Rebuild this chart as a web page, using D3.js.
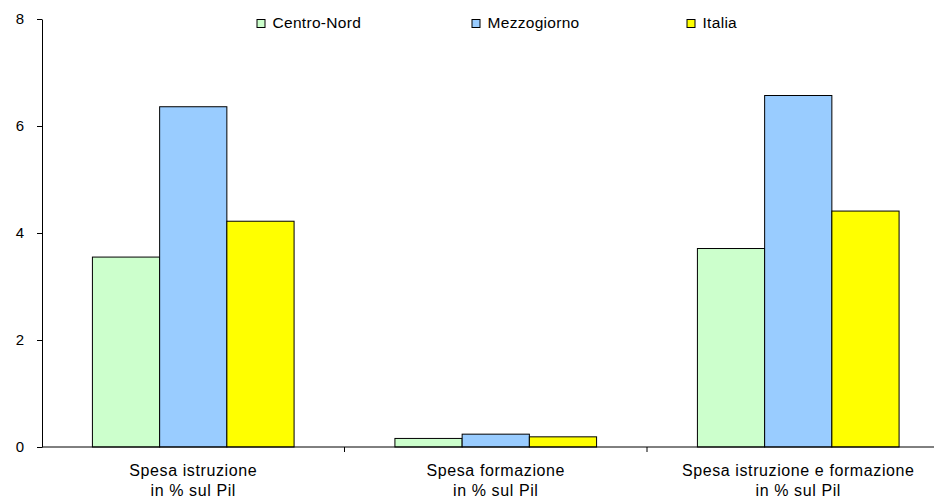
<!DOCTYPE html>
<html>
<head>
<meta charset="utf-8">
<script src="https://cdn.jsdelivr.net/npm/d3@7"></script>
<style>
  body { margin: 0; background: #fff; }
  svg { display: block; font-family: Arial, "Liberation Sans", sans-serif; }
</style>
</head>
<body>
<svg id="chart" width="934" height="500"></svg>
<script>
const categories = [
  ["Spesa istruzione", "in % sul Pil"],
  ["Spesa formazione", "in % sul Pil"],
  ["Spesa istruzione e formazione", "in % sul Pil"]
]
const seriesNames = ["Centro-Nord", "Mezzogiorno", "Italia"]
const centroNord  = [3.55, 0.16, 3.71]
const mezzogiorno = [6.36, 0.24, 6.57]
const italia      = [4.22, 0.19, 4.41]
const yTicks = [0, 2, 4, 6, 8]
const colors = ["#CCFFCC", "#99CCFF", "#FFFF00"]

const series = [centroNord, mezzogiorno, italia]
const svg = d3.select("#chart")

const x0 = d3.scaleBand().domain(d3.range(categories.length)).range([42, 949.5]).paddingInner(0).paddingOuter(0)
const x1 = d3.scaleBand().domain(d3.range(seriesNames.length)).range([0, x0.bandwidth()]).paddingOuter(0.75)
const y = d3.scaleLinear().domain([0, 8]).range([447, 19])

// Bars
const g = svg.append("g")
categories.forEach((c, i) => {
  series.forEach((s, j) => {
    g.append("rect")
      .attr("x", x0(i) + x1(j))
      .attr("y", y(s[i]))
      .attr("width", x1.bandwidth())
      .attr("height", y(0) - y(s[i]))
      .attr("fill", colors[j])
      .attr("stroke", "#000")
      .attr("stroke-width", 1)
  })
})

// Y axis
const yAxis = svg.append("g")
  .attr("transform", "translate(42,0)")
  .call(d3.axisLeft(y).tickValues(yTicks).tickSize(5).tickSizeOuter(0).tickPadding(13))
yAxis.select(".domain").attr("stroke", "#000")
yAxis.selectAll("line").attr("stroke", "#000")
yAxis.selectAll("text").attr("font-size", 15).attr("fill", "#000")
  .attr("font-family", "Arial, 'Liberation Sans', sans-serif")

// X baseline and category tick marks
svg.append("line")
  .attr("x1", 42).attr("x2", 949.5)
  .attr("y1", y(0)).attr("y2", y(0))
  .attr("stroke", "#000")
categories.forEach((c, i) => {
  if (i > 0) {
    svg.append("line")
      .attr("x1", x0(i)).attr("x2", x0(i))
      .attr("y1", y(0)).attr("y2", y(0) + 5)
      .attr("stroke", "#000")
  }
  const t = svg.append("text")
    .attr("text-anchor", "middle")
    .attr("font-size", 16)
    .attr("letter-spacing", 0.6)
  c.forEach((line, k) => {
    t.append("tspan").attr("x", x0(i) + x0.bandwidth() / 2).attr("y", 476 + k * 20).text(line)
  })
})

// Legend
const legendX = [257, 472, 687]
seriesNames.forEach((name, j) => {
  svg.append("rect")
    .attr("x", legendX[j]).attr("y", 19.5)
    .attr("width", 8).attr("height", 8)
    .attr("fill", colors[j]).attr("stroke", "#000")
  svg.append("text")
    .attr("x", legendX[j] + 15.5).attr("y", 28)
    .attr("font-size", 15.5)
    .attr("letter-spacing", 0.3)
    .text(name)
})
</script>
</body>
</html>
